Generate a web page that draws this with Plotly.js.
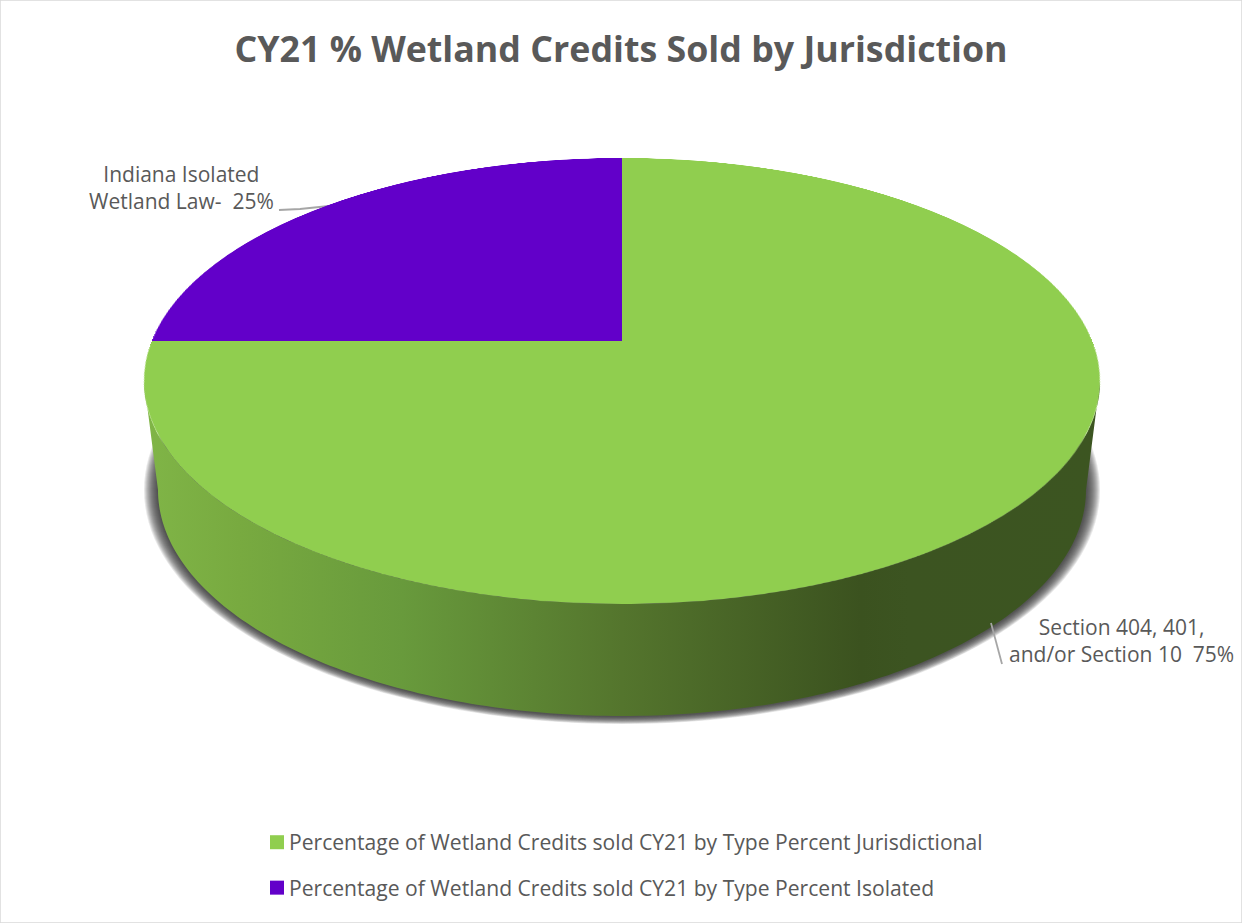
<!DOCTYPE html>
<html>
<head>
<meta charset="utf-8">
<script src="https://cdn.plot.ly/plotly-3.0.1.min.js"></script>
<style>
html,body{margin:0;padding:0;background:#fff;overflow:hidden;width:1242px;height:923px}
#back{position:absolute;left:0;top:0;width:1242px;height:923px}
#front{position:absolute;left:0;top:0;width:1000px;height:1000px;pointer-events:none;transform-origin:0 0}
</style>
</head>
<body>
<div id="back"></div>
<div id="front"></div>
<script>
// Data
const categories = [
  "Percentage of Wetland Credits sold CY21 by Type Percent Jurisdictional",
  "Percentage of Wetland Credits sold CY21 by Type Percent Isolated"
];
const percentSold = [75, 25];
const sliceColors = ["#90CE4F", "#6200C9"];
const titleText = "CY21 % Wetland Credits Sold by Jurisdiction";
const labelJurisdictional = "Section 404, 401,<br>and/or Section 10\u00a0 75%";
const labelIsolated = "Indiana Isolated<br>Wetland Law-\u00a0 25%";

// Drawing geometry, in screen pixels
const W = 1242, H = 923;
const apex = {x: 622, y: 341};
const topFace = {cx: 622, cy: 381, a: 478, b: 223, top: 158, bottom: 604};
const baseFace = {cx: 622, cy: 490, a: 464, b: 226};
const FONT = '"Open Sans", "Noto Sans", sans-serif';
const TEXT = "#595959";

function arc(e, from, to, n, da, db) {
  const xs = [], ys = [];
  for (let i = 0; i <= n; i++) {
    const t = from + (to - from) * i / n;
    xs.push(e.cx + (e.a + (da || 0)) * Math.cos(t));
    ys.push(e.cy + (e.b + (db || 0)) * Math.sin(t));
  }
  return {xs, ys};
}

const traces = [];
// soft shadow below the disc
for (let i = 0; i < 14; i++) {
  const s = arc(baseFace, 0, 2 * Math.PI, 180, 14 - i, 8 - i * 0.55);
  traces.push({type: "scatter", mode: "none", x: s.xs, y: s.ys, fill: "toself",
    fillcolor: "rgba(50,50,50,0.11)", hoverinfo: "skip", showlegend: false});
}
// side wall of the disc
const upper = arc(topFace, Math.PI, 0, 180);
const lower = arc(baseFace, 0, Math.PI, 180);
traces.push({type: "scatter", mode: "none",
  x: upper.xs.concat(lower.xs), y: upper.ys.concat(lower.ys),
  fill: "toself", hoverinfo: "skip", showlegend: false,
  fillgradient: {type: "horizontal", start: 144, stop: 1100, colorscale: [
    [0, "#80B547"], [0.1, "#78AA40"], [0.27, "#689A3C"], [0.5, "#54752D"],
    [0.75, "#3B521F"], [0.8, "#3C5421"], [1, "#3C5521"]]}
});
// legend entries (their small pies sit hidden below the top face)
categories.forEach((c, i) => {
  traces.push({type: "pie", labels: [c], values: [percentSold[i]], name: c,
    marker: {colors: [sliceColors[i]], line: {width: 0}},
    domain: {x: [0.6, 0.605], y: [0.55, 0.555]},
    textinfo: "none", hoverinfo: "skip", legendgroup: "g" + i, sort: false});
});

const backLayout = {
  width: W, height: H, margin: {l: 0, r: 0, t: 0, b: 0},
  paper_bgcolor: "#fff", plot_bgcolor: "rgba(0,0,0,0)",
  font: {family: FONT, color: TEXT},
  title: {text: titleText, x: 0.5, xanchor: "center", xref: "paper",
    y: 1 - 49 / H, yanchor: "middle", yref: "container",
    font: {family: FONT, size: 35.75, color: TEXT, weight: 700}},
  xaxis: {range: [0, W], visible: false, fixedrange: true},
  yaxis: {range: [H, 0], visible: false, fixedrange: true},
  showlegend: true,
  legend: {x: 249 / W, xanchor: "left", y: 1 - 822 / H, yanchor: "top",
    bgcolor: "rgba(0,0,0,0)", tracegroupgap: 15, itemclick: false, itemdoubleclick: false,
    font: {family: FONT, size: 21.1, color: TEXT}},
  shapes: [
    {type: "rect", xref: "paper", yref: "paper", x0: 0, x1: 1, y0: 0, y1: 1,
      line: {color: "#D9D9D9", width: 1.5}, fillcolor: "rgba(0,0,0,0)"},
    {type: "path", xref: "x", yref: "y", path: "M279,210 L300,209 L329,206",
      line: {color: "#A6A6A6", width: 1.8}},
    {type: "path", xref: "x", yref: "y", path: "M991,623 L1002,664",
      line: {color: "#A6A6A6", width: 1.8}}
  ],
  annotations: [
    {text: labelIsolated, x: 181.5, y: 187, xref: "x", yref: "y", showarrow: false,
      xanchor: "center", yanchor: "middle", align: "center",
      font: {family: FONT, size: 21, color: TEXT}},
    {text: labelJurisdictional, x: 1121, y: 640.5, xref: "x", yref: "y", showarrow: false,
      xanchor: "center", yanchor: "middle", align: "center",
      font: {family: FONT, size: 21, color: TEXT}}
  ]
};

// Top face: the real pie, seen in perspective
const S = 1000, R = S / 2;
const frontTrace = {type: "pie", labels: categories, values: percentSold, sort: false,
  direction: "clockwise", rotation: 0, textinfo: "none", hoverinfo: "skip",
  marker: {colors: sliceColors, line: {width: 0}}, domain: {x: [0, 1], y: [0, 1]}};
const frontLayout = {width: S, height: S, margin: {l: 0, r: 0, t: 0, b: 0},
  paper_bgcolor: "rgba(0,0,0,0)", showlegend: false};

const upSpan = apex.y - topFace.top, downSpan = topFace.bottom - apex.y;
const p = (upSpan - downSpan) / (upSpan + downSpan);
const B = upSpan * (1 - p);
const A = topFace.a * Math.sqrt(1 - p * p);
const m = [
  A / R, 0, 0, 0,
  apex.x * p / R, (apex.y * p + B) / R, 0, p / R,
  0, 0, 1, 0,
  apex.x * (1 - p) - A, apex.y * (1 - p) - B, 0, 1 - p
];
document.getElementById("front").style.transform = "matrix3d(" + m.join(",") + ")";

const cfg = {displayModeBar: false, responsive: false};
Plotly.newPlot("back", traces, backLayout, cfg).then(() => {
  // Office-style legend: slightly larger swatch, closer to its text
  document.querySelectorAll("#back .legend path.legendpie").forEach(el => el.setAttribute("d", "M7,7H-7V-7H7Z"));
  document.querySelectorAll("#back .legend .legendsymbols").forEach(el => el.setAttribute("transform", "translate(8,0)"));
});
Plotly.newPlot("front", [frontTrace], frontLayout, cfg);
</script>
</body>
</html>
